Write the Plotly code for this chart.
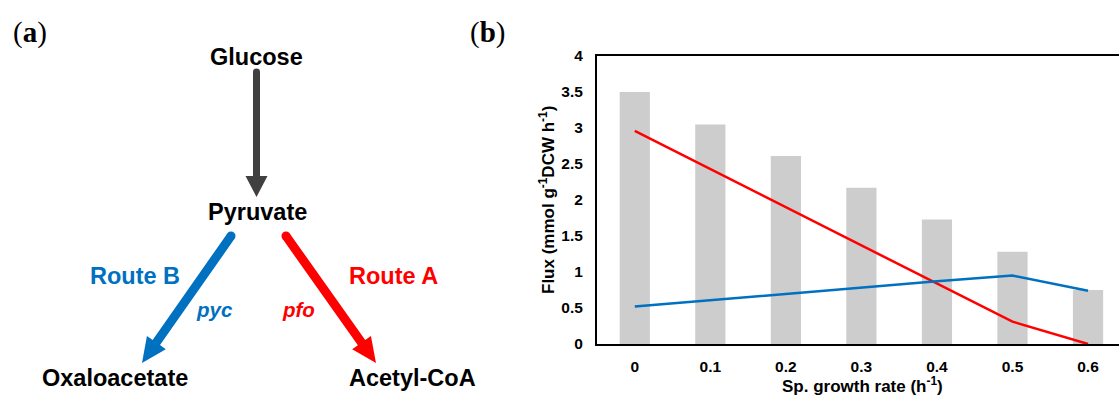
import math
import plotly.graph_objects as go

W, H = 1119, 397

# ---------------- data (panel b) ----------------
growth_rates = ["0", "0.1", "0.2", "0.3", "0.4", "0.5", "0.6"]
bar_flux = [3.50, 3.05, 2.61, 2.17, 1.73, 1.28, 0.75]
route_a_flux = [2.96, 2.43, 1.90, 1.37, 0.85, 0.31, 0.00]
route_b_flux = [0.52, 0.61, 0.69, 0.78, 0.87, 0.95, 0.74]
y_ticks = [0, 0.5, 1, 1.5, 2, 2.5, 3, 3.5, 4]

# ---------------- colours ----------------
BLUE = "#0070C0"
RED = "#FF0000"
DARK = "#404040"
BAR = "#CDCDCD"
FONT = "Liberation Sans, Arial, sans-serif"
SERIF = "Liberation Serif, Times New Roman, serif"


def px(x):
    return x / W


def py(y):
    return 1 - y / H


fig = go.Figure()

fig.add_trace(go.Bar(x=growth_rates, y=bar_flux, marker=dict(color=BAR, line=dict(width=0)),
                     width=0.4, showlegend=False, hoverinfo="skip"))
fig.add_trace(go.Scatter(x=growth_rates, y=route_a_flux, mode="lines",
                         line=dict(color=RED, width=2.5), showlegend=False))
fig.add_trace(go.Scatter(x=growth_rates, y=route_b_flux, mode="lines",
                         line=dict(color=BLUE, width=2.5), showlegend=False))

fig.update_layout(
    width=W, height=H,
    margin=dict(l=0, r=0, t=0, b=0),
    paper_bgcolor="white", plot_bgcolor="white",
    template="none",
    font=dict(family=FONT, color="black"),
    xaxis=dict(type="category", domain=[px(597), 1], range=[-0.5, 6.41],
               showline=True, linecolor="black", linewidth=2, mirror=True,
               showgrid=False, zeroline=False, ticks="", automargin=False,
               ticklabelstandoff=7,
               tickfont=dict(family=FONT, size=15.5, weight="bold", color="black")),
    yaxis=dict(domain=[py(344), py(56)], range=[0, 4], tickvals=y_ticks,
               showline=True, linecolor="black", linewidth=2, mirror=False,
               showgrid=False, zeroline=False, ticks="", automargin=False,
               ticklabelstandoff=9,
               tickfont=dict(family=FONT, size=15.5, weight="bold", color="black")),
)

ann = []


def text(x, y, s, size=23.5, color="black", italic=False, family=FONT, weight="bold", angle=0):
    ann.append(dict(x=px(x), y=py(y), xref="paper", yref="paper", text=s, showarrow=False,
                    xanchor="center", yanchor="middle", textangle=angle,
                    font=dict(family=family, size=size, color=color, weight=weight,
                              style="italic" if italic else "normal")))


# axis titles (panel b)
text(547, 200, "Flux (mmol g<sup>-1</sup>DCW h<sup>-1</sup>)", size=17, angle=-90)
text(862, 385, "Sp. growth rate (h<sup>-1</sup>)", size=17)

# panel labels
text(29.5, 33, "(<b>a</b>)", size=29, family=SERIF, weight="normal")
text(487, 33, "(<b>b</b>)", size=29, family=SERIF, weight="normal")

# panel a labels
text(256, 57, "Glucose")
text(257, 212, "Pyruvate")
text(115, 378, "Oxaloacetate")
text(412, 378, "Acetyl-CoA")
text(135, 276, "Route B", color=BLUE)
text(393, 276, "Route A", color=RED)
text(214, 309, "pyc", size=20.5, color=BLUE, italic=True)
text(299, 309, "pfo", size=20.5, color=RED, italic=True)

fig.update_layout(annotations=ann)

shapes = []


def arrow(S, T, w, h, hw, color):
    dx, dy = T[0] - S[0], T[1] - S[1]
    L = math.hypot(dx, dy)
    ux, uy = dx / L, dy / L
    nx, ny = -uy, ux
    Bx, By = T[0] - h * ux, T[1] - h * uy
    pts = [
        (S[0] + w * nx, S[1] + w * ny),
        (Bx + w * nx, By + w * ny),
        (Bx + hw * nx, By + hw * ny),
        (T[0], T[1]),
        (Bx - hw * nx, By - hw * ny),
        (Bx - w * nx, By - w * ny),
        (S[0] - w * nx, S[1] - w * ny),
    ]
    path = "M " + " L ".join(f"{px(a):.5f},{py(b):.5f}" for a, b in pts) + " Z"
    shapes.append(dict(type="path", xref="paper", yref="paper", path=path,
                       fillcolor=color, line=dict(width=0)))
    shapes.append(dict(type="circle", xref="paper", yref="paper",
                       x0=px(S[0] - w), x1=px(S[0] + w), y0=py(S[1] + w), y1=py(S[1] - w),
                       fillcolor=color, line=dict(width=0)))


arrow((256.5, 72), (256.5, 197), 3.5, 21, 11, DARK)
arrow((231, 236), (142, 363), 4.5, 25, 11.5, BLUE)
arrow((286, 236), (376, 363), 4.5, 25, 11.5, RED)

fig.update_layout(shapes=shapes)

fig.write_html("out.html", config={"displayModeBar": False},
               post_script="document.body.style.margin='0';document.body.style.overflow='hidden';")
